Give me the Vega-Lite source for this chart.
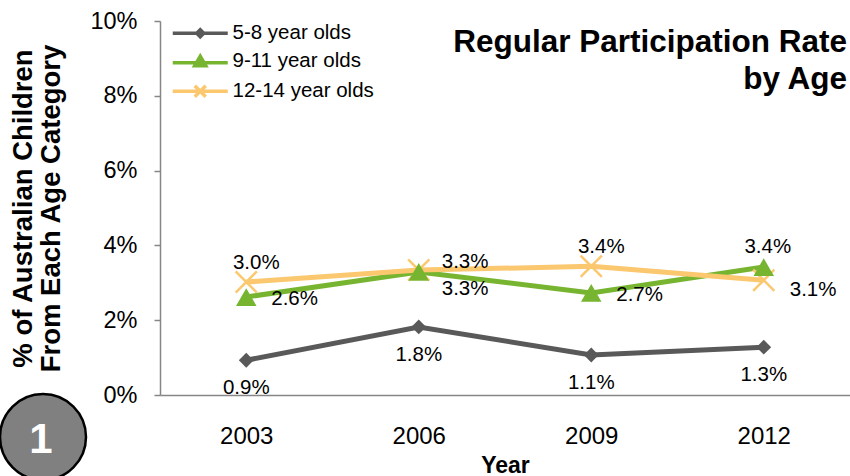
{
  "$schema": "https://vega.github.io/schema/vega-lite/v6.json",
  "width": 690,
  "height": 374,
  "autosize": {"type": "none"},
  "padding": {"left": 160, "top": 21, "right": 0, "bottom": 81},
  "background": "white",
  "config": {
    "view": {"stroke": null},
    "font": "Liberation Sans",
    "axis": {"labelFont": "Liberation Sans", "titleFont": "Liberation Sans"},
    "legend": {"labelFont": "Liberation Sans"},
    "text": {"font": "Liberation Sans"}
  },
  "data": {
    "values": [
      {"series": "5-8 year olds", "year": "2003", "rate": 0.0093},
      {"series": "5-8 year olds", "year": "2006", "rate": 0.0182},
      {"series": "5-8 year olds", "year": "2009", "rate": 0.0107},
      {"series": "5-8 year olds", "year": "2012", "rate": 0.0128},
      {"series": "9-11 year olds", "year": "2003", "rate": 0.0262},
      {"series": "9-11 year olds", "year": "2006", "rate": 0.0329},
      {"series": "9-11 year olds", "year": "2009", "rate": 0.0273},
      {"series": "9-11 year olds", "year": "2012", "rate": 0.0342},
      {"series": "12-14 year olds", "year": "2003", "rate": 0.0302},
      {"series": "12-14 year olds", "year": "2006", "rate": 0.0334},
      {"series": "12-14 year olds", "year": "2009", "rate": 0.0344},
      {"series": "12-14 year olds", "year": "2012", "rate": 0.0307}
    ]
  },
  "encoding": {
    "x": {
      "field": "year",
      "type": "ordinal",
      "scale": {"type": "point", "padding": 0.5},
      "title": "Year",
      "axis": {
        "domainColor": "#868686",
        "domainWidth": 1.5,
        "ticks": false,
        "labelFontSize": 24,
        "labelColor": "black",
        "labelPadding": 29,
        "labelAngle": 0,
        "titleFontSize": 23,
        "titleFontWeight": "bold",
        "titleColor": "black",
        "titlePadding": 6
      }
    },
    "y": {
      "field": "rate",
      "type": "quantitative",
      "scale": {"domain": [0, 0.1]},
      "axis": {
        "values": [0, 0.02, 0.04, 0.06, 0.08, 0.1],
        "format": ".0%",
        "grid": false,
        "domainColor": "#868686",
        "domainWidth": 1.5,
        "tickColor": "#868686",
        "tickWidth": 1.5,
        "tickSize": 6,
        "labelFontSize": 23.5,
        "labelColor": "black",
        "labelPadding": 17,
        "title": ["% of Australian Children", "From  Each Age Category"],
        "titleFontSize": 27.5,
        "titleFontWeight": "bold",
        "titleColor": "black",
        "titlePadding": 24,
        "titleLineHeight": 28
      }
    }
  },
  "layer": [
    {
      "mark": {"type": "line", "strokeWidth": 5},
      "encoding": {
        "color": {
          "field": "series",
          "type": "nominal",
          "scale": {
            "domain": ["5-8 year olds", "9-11 year olds", "12-14 year olds"],
            "range": ["#595959", "#77B530", "#FBC86F"]
          },
          "legend": {
            "orient": "none",
            "legendX": 30,
            "legendY": 2,
            "title": null,
            "padding": 0,
            "labelFontSize": 20.5,
            "labelColor": "black",
            "symbolSize": 100,
            "labelOffset": 22,
            "rowPadding": 5,
            "encode": {
              "symbols": {
                "update": {
                  "shape": {"signal": "datum.value === '5-8 year olds' ? 'M-5.5,0L5.5,0M-0.7,0L0,-0.7L0.7,0L0,0.7Z' : datum.value === '9-11 year olds' ? 'M-5.5,0.3L5.5,0.3M-1.1,0.9L0,-1L1.1,0.9Z' : 'M-5.5,0L5.5,0M-1.1,-1.1L1.1,1.1M-1.1,1.1L1.1,-1.1'"},
                  "fill": {"scale": "color", "field": "value"},
                  "stroke": {"scale": "color", "field": "value"},
                  "strokeWidth": {"value": 3.5},
                  "opacity": {"value": 1},
                  "fillOpacity": {"value": 1}
                }
              }
            }
          }
        }
      }
    },
    {
      "transform": [{"filter": "datum.series === '5-8 year olds'"}],
      "mark": {"type": "point", "shape": "diamond", "filled": true, "size": 220, "opacity": 1},
      "encoding": {"color": {"field": "series", "type": "nominal"}}
    },
    {
      "transform": [{"filter": "datum.series === '12-14 year olds'"}],
      "mark": {"type": "point", "shape": "M-1,-1L1,1M-1,1L1,-1", "filled": false, "size": 450, "strokeWidth": 2.5, "opacity": 1},
      "encoding": {"color": {"field": "series", "type": "nominal"}}
    },
    {
      "transform": [{"filter": "datum.series === '9-11 year olds'"}],
      "mark": {"type": "point", "shape": "triangle-up", "filled": true, "size": 420, "opacity": 1},
      "encoding": {"color": {"field": "series", "type": "nominal"}}
    },
    {
      "transform": [{"filter": "datum.series === '5-8 year olds'"}],
      "mark": {"type": "text", "fontSize": 20.5, "color": "black", "baseline": "middle", "align": "center", "dy": 28},
      "encoding": {"text": {"field": "rate", "type": "quantitative", "format": ".1%"}}
    },
    {
      "transform": [{"filter": "datum.series === '9-11 year olds' && (datum.year === '2003' || datum.year === '2009')"}],
      "mark": {"type": "text", "fontSize": 20.5, "color": "black", "baseline": "middle", "align": "left", "dx": 25, "dy": 2},
      "encoding": {"text": {"field": "rate", "type": "quantitative", "format": ".1%"}}
    },
    {
      "transform": [{"filter": "datum.series === '9-11 year olds' && datum.year === '2006'"}],
      "mark": {"type": "text", "fontSize": 20.5, "color": "black", "baseline": "middle", "align": "left", "dx": 23, "dy": 17},
      "encoding": {"text": {"field": "rate", "type": "quantitative", "format": ".1%"}}
    },
    {
      "transform": [{"filter": "datum.series === '9-11 year olds' && datum.year === '2012'"}],
      "mark": {"type": "text", "fontSize": 20.5, "color": "black", "baseline": "middle", "align": "center", "dx": 4, "dy": -20},
      "encoding": {"text": {"field": "rate", "type": "quantitative", "format": ".1%"}}
    },
    {
      "transform": [{"filter": "datum.series === '12-14 year olds' && (datum.year === '2003' || datum.year === '2009')"}],
      "mark": {"type": "text", "fontSize": 20.5, "color": "black", "baseline": "middle", "align": "center", "dx": 10, "dy": -19},
      "encoding": {"text": {"field": "rate", "type": "quantitative", "format": ".1%"}}
    },
    {
      "transform": [{"filter": "datum.series === '12-14 year olds' && datum.year === '2006'"}],
      "mark": {"type": "text", "fontSize": 20.5, "color": "black", "baseline": "middle", "align": "left", "dx": 23, "dy": -8},
      "encoding": {"text": {"field": "rate", "type": "quantitative", "format": ".1%"}}
    },
    {
      "transform": [{"filter": "datum.series === '12-14 year olds' && datum.year === '2012'"}],
      "mark": {"type": "text", "fontSize": 20.5, "color": "black", "baseline": "middle", "align": "left", "dx": 26, "dy": 10},
      "encoding": {"text": {"field": "rate", "type": "quantitative", "format": ".1%"}}
    },
    {
      "data": {"values": [{"heading": "Regular Participation Rate|by Age"}]},
      "mark": {"type": "text", "fontSize": 31.5, "fontWeight": "bold", "color": "black", "align": "right", "baseline": "alphabetic", "lineBreak": "|", "lineHeight": 37, "dx": -3, "dy": 31},
      "encoding": {
        "x": {"value": "width"},
        "y": {"value": 0},
        "text": {"field": "heading", "type": "nominal"}
      }
    },
    {
      "data": {"values": [{"label": "badge"}]},
      "mark": {"type": "point", "shape": "circle", "size": 7396, "filled": true, "fill": "#808080", "stroke": "black", "strokeWidth": 2.5, "opacity": 1, "xOffset": -117, "yOffset": 42},
      "encoding": {
        "x": {"value": 0},
        "y": {"value": "height"}
      }
    },
    {
      "data": {"values": [{"label": "badge"}]},
      "mark": {"type": "text", "fontSize": 42, "fontWeight": "bold", "color": "white", "align": "center", "baseline": "alphabetic", "dx": -119, "dy": 58},
      "encoding": {
        "x": {"value": 0},
        "y": {"value": "height"},
        "text": {"value": "1"}
      }
    }
  ]
}
